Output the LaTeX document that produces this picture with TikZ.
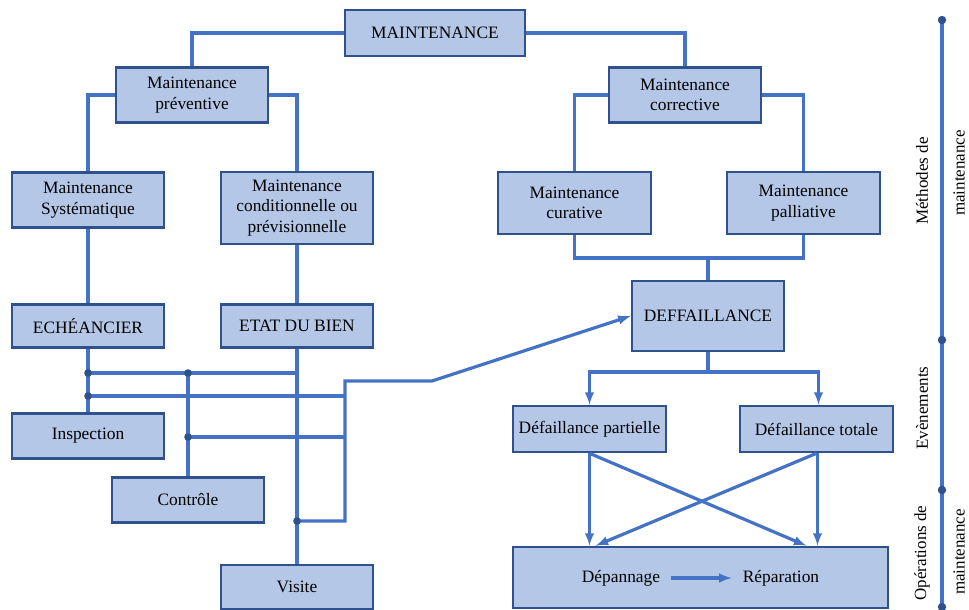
\documentclass[tikz,border=0pt]{standalone}
\usepackage{fontspec}
\setmainfont{Liberation Serif}
\usepackage{tikz}
\usetikzlibrary{arrows,positioning,calc}

\definecolor{boxfill}{RGB}{180,199,231}
\definecolor{boxdraw}{RGB}{47,82,143}
\definecolor{linkcol}{RGB}{68,114,196}

\begin{document}
\begin{tikzpicture}[x=1pt, y=-1pt,
    box/.style={rectangle, draw=boxdraw, line width=2.6pt, fill=boxfill, align=center, inner sep=0pt, minimum width=152pt, font=\fontsize{17.4}{20.5}\selectfont},
    line/.style={draw=linkcol, line width=3.2pt},
    arrow/.style={line, -latex},
    dot/.style={fill=boxdraw},
    lbl/.style={rotate=90, inner sep=1pt, font=\fontsize{17}{20}\selectfont}
]
    \useasboundingbox (0,0) rectangle (969,610);

    % Methods
    \node [box, minimum width=180pt, minimum height=46pt] (maint) at (435,33) {MAINTENANCE};
    \node [box, minimum height=55pt] (prev) at (192,95) {Maintenance\\préventive};
    \node [box, minimum height=55pt] (corr) at (685,95) {Maintenance\\corrective};
    \node [box, minimum height=55pt] (syst) at (88,200) {Maintenance\\Systématique};
    \node [box, minimum height=72pt] (cond) at (297,208) {Maintenance\\conditionnelle ou\\prévisionnelle};
    \node [box, minimum width=153pt, minimum height=62pt] (cura) at (574.5,203) {Maintenance\\curative};
    \node [box, minimum width=153pt, minimum height=62pt] (pall) at (803.5,203) {Maintenance\\palliative};
    \node [box, minimum height=43pt] (echea) at (88,326) {ECHÉANCIER};
    \node [box, minimum height=43pt] (etat) at (297,326) {ETAT DU BIEN};

    % Operations (left)
    \node [box, minimum height=45pt] (insp) at (88,436) {Inspection};
    \node [box, minimum height=45pt] (ctrl) at (188,500) {Contrôle};
    \node [box, minimum height=44pt] (visite) at (297,587) {Visite};

    % Events
    \node [box, minimum height=70pt] (deff) at (708,316) {DEFFAILLANCE};
    \node [box, minimum width=153pt, minimum height=46pt] (dpart) at (589.5,429) {Défaillance partielle};
    \node [box, minimum width=153pt, minimum height=46pt] (dtot) at (816.5,429) {Défaillance totale};
    \node [box, minimum width=375pt, minimum height=61pt] (oper) at (700.5,577.5) {};
    \node [font=\fontsize{17.4}{20}\selectfont, inner sep=0pt] (depan) at (621,578) {Dépannage};
    \node [font=\fontsize{17.4}{20}\selectfont, inner sep=0pt] (repar) at (781,578) {Réparation};

    % Junctions
    \coordinate (cj) at (708,258);
    \coordinate (dj) at (708,372);
    \coordinate (j1) at (88,373);
    \coordinate (j2) at (188,373);
    \coordinate (j3) at (88,396);
    \coordinate (j4) at (188,437);
    \coordinate (j5) at (297,521);
    \coordinate (bus) at (345,381);
    \coordinate (kink) at (432,381);

    % Tree
    \path [line] (maint.west) -| (prev.north);
    \path [line] (maint.east) -| (corr.north);
    \path [line] (prev.west) -| (syst.north);
    \path [line] (prev.east) -| (cond.north);
    \path [line] (corr.west) -| (cura.north);
    \path [line] (corr.east) -| (pall.north);
    \path [line] (cura.south) |- (cj) -| (pall.south);
    \path [line] (cj) -- (deff.north);
    \path [line] (syst) -- (echea);
    \path [line] (cond) -- (etat);

    % Left network
    \path [line] (echea) -- (insp);
    \path [line] (etat) -- (visite);
    \path [line] (j1) -- (etat.south |- j1);
    \path [line] (j2) -- (ctrl.north);
    \path [line] (j3) -- (j3 -| bus);
    \path [line] (j4) -- (j4 -| bus);
    \path [arrow] (j5) -| (bus) -- (kink) -- (deff.west);
    \foreach \j in {j1,j2,j3,j4,j5}
        \fill [dot] (\j) circle (3.8pt);

    % Right branches
    \path [line] (deff.south) -- (dj);
    \path [arrow] (dj) -| (dpart.north);
    \path [arrow] (dj) -| ([xshift=2pt]dtot.north);
    \path [arrow] (dpart.south) -- (dpart.south |- oper.north);
    \path [arrow] (dpart.south) -- ([xshift=-83pt]oper.north east);
    \path [arrow] ([xshift=1pt]dtot.south) -- ([xshift=1pt]dtot.south |- oper.north);
    \path [arrow] (dtot.south) -- ([xshift=84pt]oper.north west);
    \path [arrow, shorten <=11pt, shorten >=11pt] (depan) -- (repar);

    % Axis
    \coordinate (ax0) at (942,20);
    \coordinate (ax1) at (942,340);
    \coordinate (ax2) at (942,490);
    \coordinate (ax3) at (942,607);
    \path [line] (ax0) -- (ax3);
    \foreach \a in {ax0,ax1,ax2,ax3}
        \fill [dot] (\a) circle (4.2pt);
    \node [lbl] (meth) at (922,181) {Méthodes de};
    \node [lbl] (meth2) at (959,173) {maintenance};
    \node [lbl] (even) at (922,408) {Evènements};
    \node [lbl] (ops) at (922,553) {Opérations de};
    \node [lbl] (ops2) at (959,552) {maintenance};
\end{tikzpicture}
\end{document}
